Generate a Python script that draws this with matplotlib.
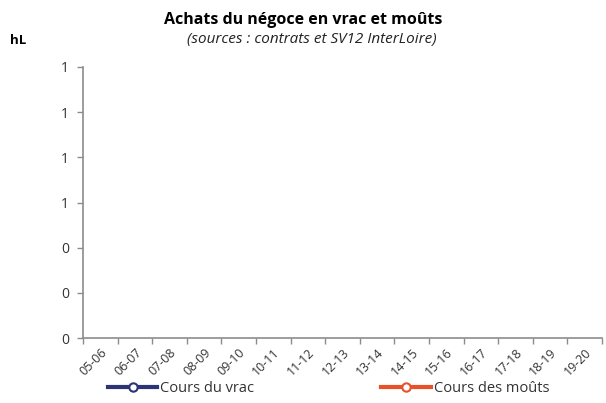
import numpy as np
import matplotlib
matplotlib.use("Agg")
import matplotlib.pyplot as plt
from matplotlib.lines import Line2D

plt.rcParams['font.family'] = ['Open Sans', 'DejaVu Sans']

categories = ["05-06", "06-07", "07-08", "08-09", "09-10", "10-11", "11-12",
              "12-13", "13-14", "14-15", "15-16", "16-17", "17-18", "18-19", "19-20"]
cours_vrac = [np.nan] * len(categories)
cours_mouts = [np.nan] * len(categories)
y_ticks = [0, 0.2, 0.4, 0.6, 0.8, 1.0, 1.2]

navy = "#2b3474"
orange = "#e8522a"
grey = "#8c8c8c"

fig = plt.figure(figsize=(6.06, 4.03), dpi=100)
ax = fig.add_axes([83/606, 65/403, 519/606, 271/403])

x = np.arange(len(categories))
ax.plot(x, cours_vrac, color=navy, lw=3, marker='o', mfc='white', mec=navy, ms=6, mew=1.5)
ax.plot(x, cours_mouts, color=orange, lw=3, marker='o', mfc='white', mec=orange, ms=6, mew=1.5)

ax.set_xlim(-0.5, len(categories) - 0.5)
ax.set_ylim(0, 1.2)
ax.set_yticks(y_ticks)
ax.set_yticklabels(["%.0f" % v for v in y_ticks])

ax.set_xticks(np.arange(len(categories) + 1) - 0.5)
ax.set_xticklabels([])
ax.set_xticks(x, minor=True)
ax.set_xticklabels(categories, minor=True, rotation=45, ha='right',
                   rotation_mode='anchor', fontsize=9, color='#333333')
ax.tick_params(axis='x', which='major', length=4, color=grey, width=1)
ax.tick_params(axis='x', which='minor', length=0, pad=6)
ax.tick_params(axis='y', length=4, color=grey, width=1, labelsize=10,
               labelcolor='#333333', pad=6)

for s in ['top', 'right']:
    ax.spines[s].set_visible(False)
for s in ['left', 'bottom']:
    ax.spines[s].set_color(grey)
    ax.spines[s].set_linewidth(1.2)

fig.text(0.5, 1 - 20/403, "Achats du négoce en vrac et moûts", ha='center', va='center',
         fontsize=11.5, fontweight='bold')
fig.text(0.515, 1 - 39/403, "(sources : contrats et SV12 InterLoire)", ha='center', va='center',
         fontsize=11, style='italic', color='#222222')
fig.text(18/606, 1 - 41/403, "hL", ha='center', va='center', fontsize=9.5, fontweight='bold')

handles = [Line2D([], [], color=navy, lw=3, marker='o', mfc='white', mec=navy, ms=6, mew=1.5),
           Line2D([], [], color=orange, lw=3, marker='o', mfc='white', mec=orange, ms=6, mew=1.5)]
fig.legend(handles, ["Cours du vrac", "Cours des moûts"], loc='center',
           bbox_to_anchor=(0.542, 1 - 389/403), ncol=2, frameon=False, fontsize=10.5,
           handlelength=3.4, handletextpad=0.2, columnspacing=8.7, labelcolor='#333333')

fig.savefig("out.png", dpi=100)
